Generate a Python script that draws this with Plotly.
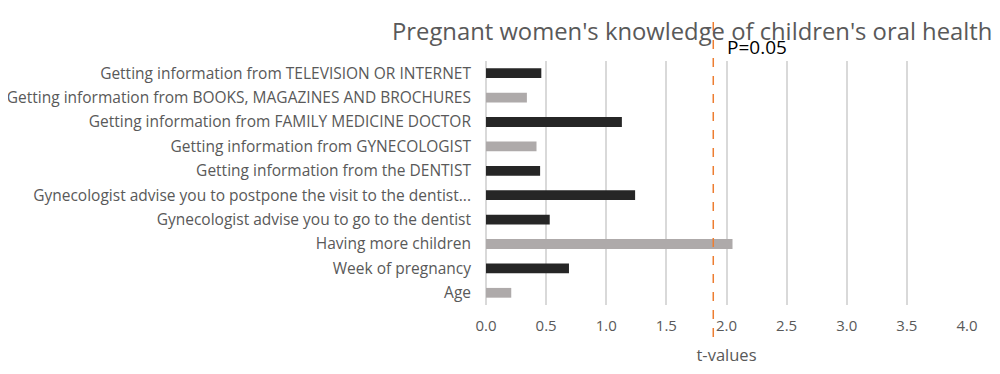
import plotly.graph_objects as go

categories = [
    "Getting information from TELEVISION OR INTERNET",
    "Getting information from BOOKS, MAGAZINES AND BROCHURES",
    "Getting information from FAMILY MEDICINE DOCTOR",
    "Getting information from GYNECOLOGIST",
    "Getting information from the DENTIST",
    "Gynecologist advise you to postpone the visit to the dentist...",
    "Gynecologist advise you to go to the dentist",
    "Having more children",
    "Week of pregnancy",
    "Age",
]
t_values = [0.46, 0.34, 1.13, 0.42, 0.45, 1.24, 0.53, 2.05, 0.69, 0.21]
bar_colors = ["#262626", "#AEAAAA", "#262626", "#AEAAAA", "#262626",
              "#262626", "#262626", "#AEAAAA", "#262626", "#AEAAAA"]
p_threshold = 1.89
x_ticks = [0.0, 0.5, 1.0, 1.5, 2.0, 2.5, 3.0, 3.5, 4.0]

FONT = "Open Sans"
GRAY = "#595959"

fig = go.Figure()
fig.add_trace(go.Bar(
    y=categories, x=t_values, orientation="h",
    marker=dict(color=bar_colors, line=dict(width=0)),
    width=0.4, showlegend=False,
))

fig.add_shape(type="line", xref="x", yref="paper",
              x0=p_threshold, x1=p_threshold, y0=-0.131, y1=1.18,
              line=dict(color="#ED7D31", width=1.5, dash="dash"))
fig.add_annotation(xref="x", yref="paper", x=p_threshold + 0.1, y=0.995,
                   text="P=0.05", showarrow=False, xanchor="left", yanchor="bottom",
                   font=dict(family=FONT, size=19, color="#000000"))

fig.add_annotation(xref="paper", x=-0.2, yref="paper", y=1.05,
                   text="Pregnant women's knowledge of children's oral health",
                   showarrow=False, xanchor="left", yanchor="bottom",
                   font=dict(family=FONT, size=23.8, color=GRAY))

# page body adds an 8px offset, so the figure is sized 992x366
fig.update_layout(
    width=992, height=366,
    margin=dict(l=478, r=33, t=53, b=69),
    plot_bgcolor="white", paper_bgcolor="white",
    font=dict(family=FONT, size=13, color=GRAY),
    xaxis=dict(range=[0, 4.0], tickvals=x_ticks, ticktext=[f"{v:.1f}" for v in x_ticks],
               automargin=False, ticklabelstandoff=10,
               showgrid=True, gridcolor="#D9D9D9", gridwidth=1.5,
               zeroline=True, zerolinecolor="#D9D9D9", zerolinewidth=1.5,
               showline=False, ticks="", tickfont=dict(size=15, color=GRAY),
               title=dict(text="t-values", font=dict(size=16.5, color=GRAY), standoff=15)),
    yaxis=dict(categoryorder="array", categoryarray=categories[::-1],
               automargin=False,
               showgrid=False, ticks="", ticklabelstandoff=14,
               tickfont=dict(size=15.5, color=GRAY)),
)

fig.write_html("out.html")
